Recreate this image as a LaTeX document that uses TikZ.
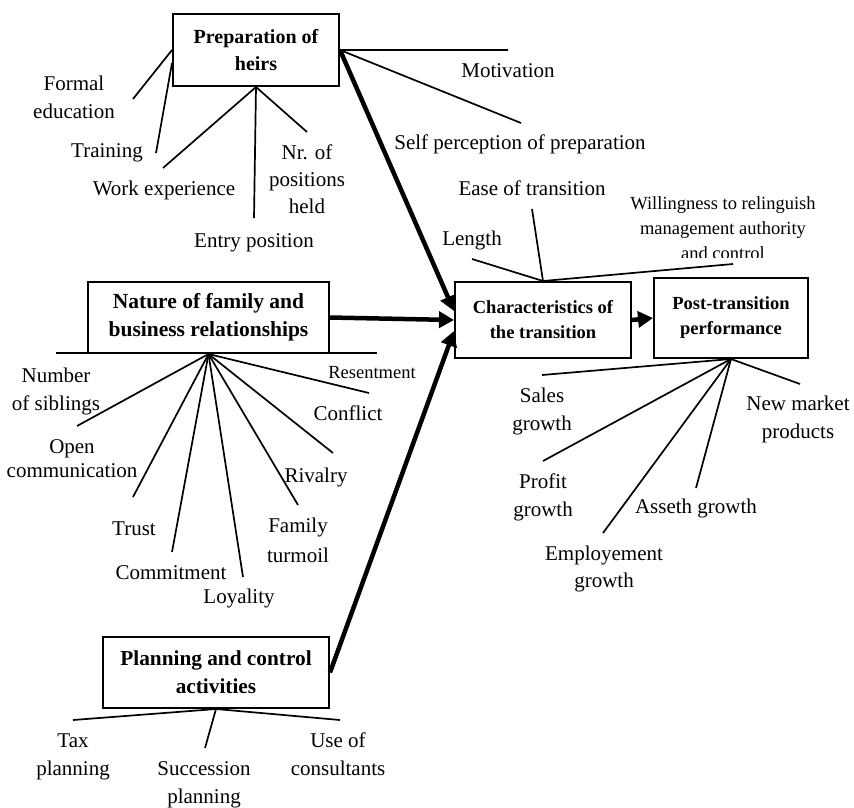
\documentclass[tikz,border=0pt]{standalone}
\usepackage{fontspec}
\setmainfont{Liberation Serif}
\usetikzlibrary{arrows.meta,calc}
\newcommand\lblfont{\fontsize{21}{28}\selectfont}
\newcommand\smallfont{\fontsize{18.5}{25}\selectfont}
\begin{document}
\begin{tikzpicture}[x=1pt,y=-1pt,
  box/.style={draw,line width=2pt,align=center,inner sep=0pt,font=\bfseries\fontsize{20}{27}\selectfont},
  lbl/.style={align=center,inner sep=0pt,anchor=base,font=\lblfont},
  smalllbl/.style={lbl,font=\smallfont},
  spoke/.style={line width=1.7pt},
  mainarrow/.style={line width=4.5pt,-{Triangle[length=15pt,width=16pt]}}]
\useasboundingbox (0,0) rectangle (854,807);
% (multi-line labels are placed by the baseline of their last line)

% factor boxes
\node[box,minimum width=166pt,minimum height=72pt] (prep) at (256,50) {Preparation of\\heirs};
\node[box,minimum width=241pt,minimum height=71pt,font=\bfseries\fontsize{21.5}{28}\selectfont] (nature) at (208.5,317.5) {Nature of family and\\business relationships};
\node[box,minimum width=226pt,minimum height=71pt,font=\bfseries\fontsize{21.3}{28}\selectfont] (plan) at (216,672.5) {Planning and control\\activities};
\node[box,minimum width=176pt,minimum height=76pt,font=\bfseries\fontsize{18.5}{25}\selectfont] (char) at (543,320) {Characteristics of\\the transition};
\node[box,minimum width=154pt,minimum height=80pt,font=\bfseries\fontsize{18.5}{25}\selectfont] (post) at (731,318) {Post-transition\\performance};

% preparation of heirs
\node[lbl] (formal) at (74,118) {Formal\\education};
\node[lbl] (training) at (107,157) {Training};
\node[lbl] (workexp) at (164,195) {Work experience};
\node[lbl,font=\fontsize{21}{27}\selectfont] (nrpos) at (307,213) {Nr. of\\positions\\held};
\node[lbl] (entry) at (254,247) {Entry position};
\node[lbl] (motiv) at (508,77) {Motivation};
\node[lbl] (selfperc) at (520,149) {Self perception of preparation};
\coordinate (eformal) at (133,99);
\coordinate (etraining) at (156,153);
\coordinate (ework) at (163,168);
\coordinate (eentry) at (254,218);
\coordinate (enr) at (307,132);
\coordinate (emotiv) at (508,50);
\coordinate (eself) at (521,123);
\draw[spoke] (prep.west) -- (eformal);
\draw[spoke] ($(prep.west)+(0,13)$) -- (etraining);
\draw[spoke] (prep.south) -- (ework);
\draw[spoke] (prep.south) -- (eentry);
\draw[spoke] (prep.south) -- (enr);
\draw[spoke] (prep.east) -- (emotiv);
\draw[spoke] (prep.east) -- (eself);

% characteristics of the transition
\node[lbl] (ease) at (532,195) {Ease of transition};
\node[lbl] (length) at (472,245) {Length};
\begin{scope}
  \clip (600,185) rectangle (854,257);
  \node[smalllbl] (willing) at (723,259) {Willingness to relinguish\\management authority\\and control};
\end{scope}
\coordinate (elength) at (472,259);
\coordinate (eease) at (532,209);
\coordinate (ewill) at (733,264);
\draw[spoke] (char.north) -- (elength);
\draw[spoke] (char.north) -- (eease);
\draw[spoke] (char.north) -- (ewill);

% post-transition performance
\node[lbl] (sales) at (542,430) {Sales\\growth};
\node[lbl] (newmkt) at (798,438) {New market\\products};
\node[lbl] (profit) at (543,516) {Profit\\growth};
\node[lbl] (asseth) at (696,513) {Asseth growth};
\node[lbl,font=\fontsize{21}{27}\selectfont] (employ) at (604,587) {Employement\\growth};
\coordinate (esales) at (542,375);
\coordinate (eprofit) at (543,461);
\coordinate (eemploy) at (603,533);
\coordinate (easseth) at (696,488);
\coordinate (enew) at (800,384);
\draw[spoke] (post.south) -- (esales);
\draw[spoke] (post.south) -- (eprofit);
\draw[spoke] (post.south) -- (eemploy);
\draw[spoke] (post.south) -- (easseth);
\draw[spoke] (post.south) -- (enew);

% nature of family and business relationships
\node[lbl] (siblings) at (56,410) {Number\\of siblings};
\node[lbl,font=\fontsize{21}{24}\selectfont] (opencomm) at (72,477) {Open\\communication};
\node[lbl] (trust) at (134,535) {Trust};
\node[lbl] (commit) at (171,579) {Commitment};
\node[lbl] (loyal) at (239,603) {Loyality};
\node[lbl,font=\fontsize{21}{30}\selectfont] (turmoil) at (298,562) {Family\\turmoil};
\node[lbl] (rivalry) at (316,482) {Rivalry};
\node[lbl] (conflict) at (348,420) {Conflict};
\node[smalllbl] (resent) at (372,378) {Resentment};
\coordinate (barl) at (56,353);
\coordinate (barr) at (377,353);
\coordinate (esib) at (77,426);
\coordinate (eopen) at (133,497);
\coordinate (etrust) at (172,552);
\coordinate (ecommit) at (243,577);
\coordinate (efamily) at (298,505);
\coordinate (erival) at (333,453);
\coordinate (econfl) at (369,393);
\draw[spoke] (barl) -- (barr);
\draw[spoke] (nature.south) -- (esib);
\draw[spoke] (nature.south) -- (eopen);
\draw[spoke] (nature.south) -- (etrust);
\draw[spoke] (nature.south) -- (ecommit);
\draw[spoke] (nature.south) -- (efamily);
\draw[spoke] (nature.south) -- (erival);
\draw[spoke] (nature.south) -- (econfl);

% planning and control activities
\node[lbl] (tax) at (73,775) {Tax\\planning};
\node[lbl] (succ) at (204,803) {Succession\\planning};
\node[lbl] (consult) at (338,775) {Use of\\consultants};
\coordinate (etax) at (73,720);
\coordinate (esucc) at (205,748);
\coordinate (euse) at (340,720);
\draw[spoke] (plan.south) -- (etax);
\draw[spoke] (plan.south) -- (esucc);
\draw[spoke] (plan.south) -- (euse);

% main causal arrows
\draw[mainarrow] (prep.east) -- ($(char.west)+(0,-9)$);
\draw[mainarrow] (nature.east) -- (char.west);
\draw[mainarrow] (plan.east) -- ($(char.west)+(0,11)$);
\draw[mainarrow] (char.east) -- (post.west);
\end{tikzpicture}
\end{document}
